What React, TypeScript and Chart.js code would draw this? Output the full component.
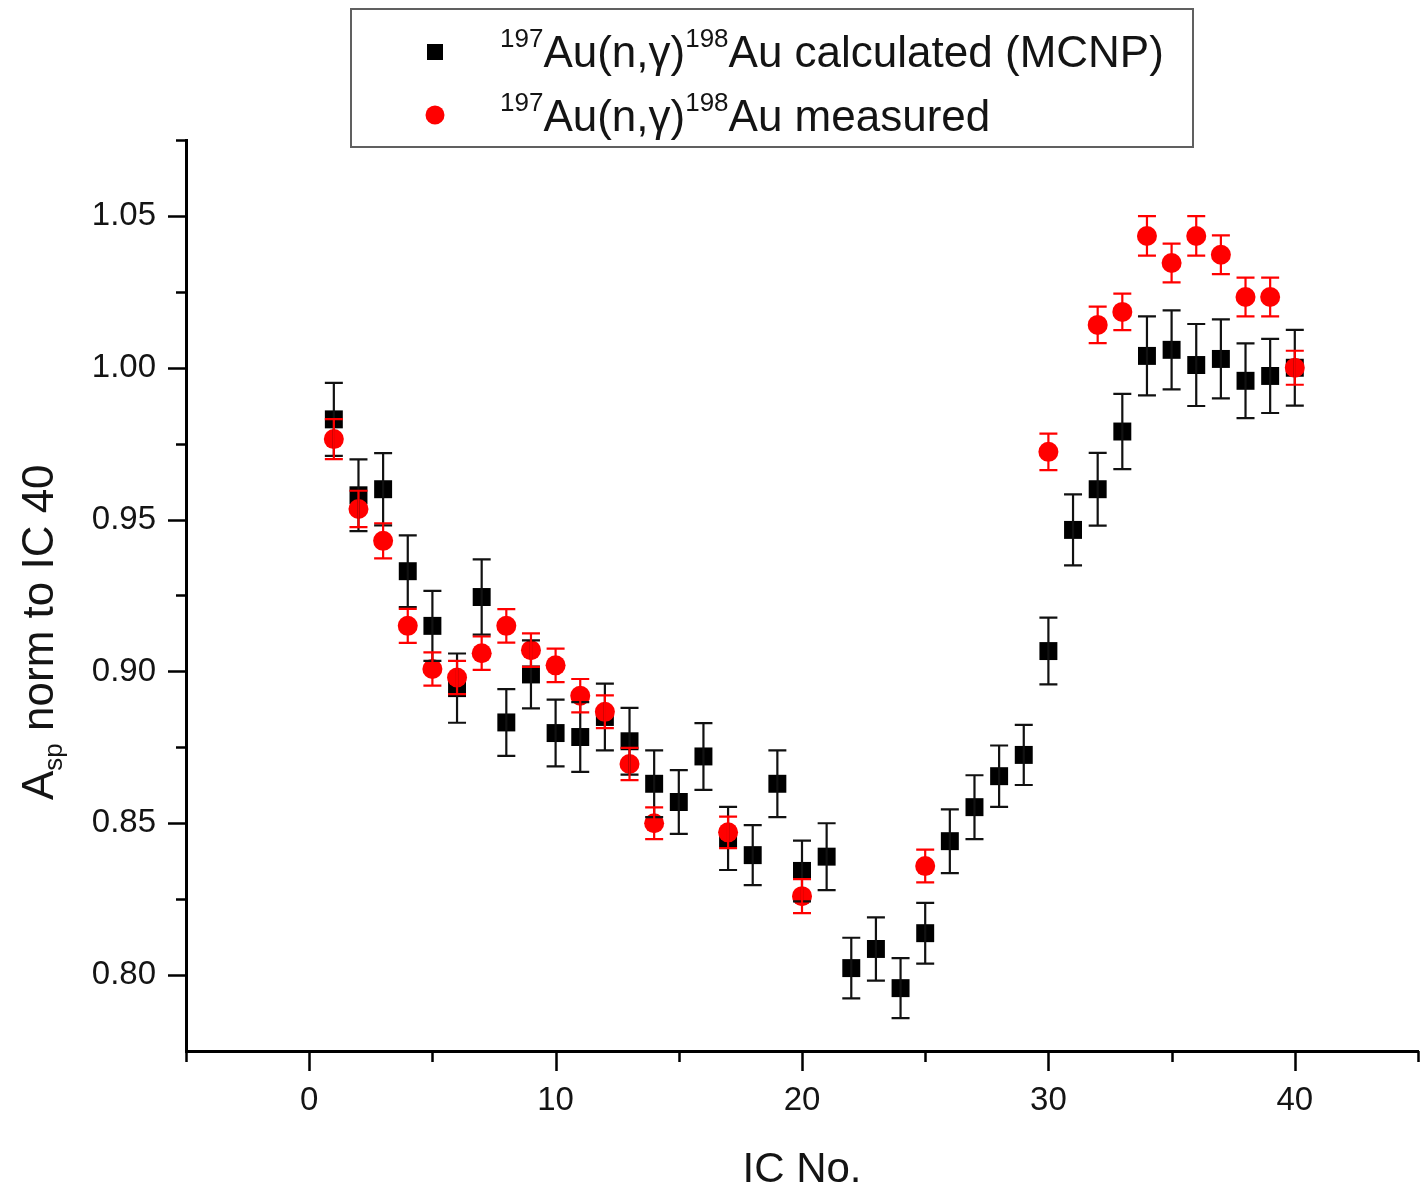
import { useEffect, useRef } from 'react';
import { Chart, registerables } from 'chart.js';

Chart.register(...registerables);

// ---------------- data ----------------
const calcIC = [1, 2, 3, 4, 5, 6, 7, 8, 9, 10, 11, 12, 13, 14, 15, 16, 17, 18, 19, 20, 21, 22, 23, 24, 25, 26, 27, 28, 29, 30, 31, 32, 33, 34, 35, 36, 37, 38, 39, 40];
const calcValues = [0.983, 0.958, 0.960, 0.933, 0.915, 0.8945, 0.9245, 0.8832, 0.899, 0.8797, 0.8784, 0.885, 0.877, 0.863, 0.857, 0.872, 0.845, 0.8395, 0.863, 0.8343, 0.839, 0.8023, 0.8086, 0.7957, 0.8138, 0.8441, 0.8553, 0.8655, 0.8725, 0.9067, 0.9466, 0.960, 0.979, 1.0039, 1.0059, 1.0009, 1.0029, 0.9957, 0.9973, 1.000];
const calcErrors = [0.012, 0.0118, 0.0119, 0.0118, 0.0115, 0.0114, 0.0124, 0.011, 0.0112, 0.011, 0.0115, 0.011, 0.011, 0.011, 0.0105, 0.011, 0.0104, 0.0099, 0.011, 0.010, 0.011, 0.010, 0.0104, 0.0099, 0.010, 0.0105, 0.0105, 0.0101, 0.0099, 0.011, 0.0117, 0.012, 0.0124, 0.013, 0.013, 0.0135, 0.013, 0.0123, 0.0122, 0.0125];

const measIC = [1, 2, 3, 4, 5, 6, 7, 8, 9, 10, 11, 12, 13, 14, 17, 20, 25, 30, 32, 33, 34, 35, 36, 37, 38, 39, 40];
const measValues = [0.9765, 0.9535, 0.943, 0.915, 0.9008, 0.898, 0.906, 0.915, 0.907, 0.902, 0.892, 0.8867, 0.8695, 0.850, 0.847, 0.826, 0.8359, 0.9723, 1.0141, 1.0184, 1.0434, 1.0345, 1.0434, 1.0372, 1.0233, 1.0233, 1.000];
const measErrors = [0.0066, 0.006, 0.0058, 0.0056, 0.0055, 0.0055, 0.0055, 0.0055, 0.0055, 0.0055, 0.0055, 0.0054, 0.0053, 0.0052, 0.0052, 0.0056, 0.0054, 0.006, 0.006, 0.006, 0.0065, 0.0064, 0.0065, 0.0064, 0.0064, 0.0064, 0.0056];

const xMajorTicks = [0, 10, 20, 30, 40];
const xMinorTicks = [-5, 5, 15, 25, 35, 45];
const yMajorTicks = [0.80, 0.85, 0.90, 0.95, 1.00, 1.05];
const yMinorTicks = [0.825, 0.875, 0.925, 0.975, 1.025, 1.075];

const xTitle = 'IC No.';
const yTitleParts = { main: 'A', sub: 'sp', rest: ' norm to IC 40' };
const legendCalc = { supA: '197', a: 'Au(n,γ)', supB: '198', b: 'Au calculated (MCNP)' };
const legendMeas = { supA: '197', a: 'Au(n,γ)', supB: '198', b: 'Au measured' };

// ---------------- styling / layout ----------------
const FONT = '"Liberation Sans", Arial, Helvetica, sans-serif';
const TEXT = '#141414';
const BLACK = '#000000';
const RED = '#ff0000';
const AREA_LEFT = 186;
const AREA_RIGHT = 1418;
const AREA_TOP = 140;
const AREA_BOTTOM = 1051;

function drawRich(ctx: CanvasRenderingContext2D, x: number, y: number, p: any) {
  const main = 44;
  const sup = 26;
  const supOff = 20;
  ctx.textAlign = 'left';
  ctx.textBaseline = 'alphabetic';
  ctx.fillStyle = TEXT;
  let cx = x;
  ctx.font = `${sup}px ${FONT}`;
  ctx.fillText(p.supA, cx, y - supOff);
  cx += ctx.measureText(p.supA).width;
  ctx.font = `${main}px ${FONT}`;
  ctx.fillText(p.a, cx, y);
  cx += ctx.measureText(p.a).width;
  ctx.font = `${sup}px ${FONT}`;
  ctx.fillText(p.supB, cx, y - supOff);
  cx += ctx.measureText(p.supB).width;
  ctx.font = `${main}px ${FONT}`;
  ctx.fillText(p.b, cx, y);
}

const decorPlugin = {
  id: 'decor',
  afterDatasetsDraw(chart: any) {
    const { ctx, scales } = chart;
    const xs = scales.x;
    const ys = scales.y;
    chart.data.datasets.forEach((ds: any) => {
      const errs: number[] = ds.errors;
      ctx.save();
      ctx.strokeStyle = ds.errorColor;
      ctx.lineWidth = 2.2;
      ds.data.forEach((pt: any, i: number) => {
        const px = xs.getPixelForValue(pt.x);
        const top = ys.getPixelForValue(pt.y + errs[i]);
        const bot = ys.getPixelForValue(pt.y - errs[i]);
        const hw = 9;
        ctx.beginPath();
        ctx.moveTo(px, top);
        ctx.lineTo(px, bot);
        ctx.moveTo(px - hw, top);
        ctx.lineTo(px + hw, top);
        ctx.moveTo(px - hw, bot);
        ctx.lineTo(px + hw, bot);
        ctx.stroke();
      });
      ctx.restore();
    });
  },
  afterDraw(chart: any) {
    const { ctx, scales, chartArea } = chart;
    const xs = scales.x;
    const ys = scales.y;
    ctx.save();
    // ticks
    ctx.strokeStyle = BLACK;
    ctx.lineWidth = 2.5;
    ctx.beginPath();
    yMajorTicks.forEach((v) => {
      const py = Math.round(ys.getPixelForValue(v)) + 0.5;
      ctx.moveTo(chartArea.left - 18, py);
      ctx.lineTo(chartArea.left, py);
    });
    yMinorTicks.forEach((v) => {
      const py = Math.round(ys.getPixelForValue(v)) + 0.5;
      ctx.moveTo(chartArea.left - 10, py);
      ctx.lineTo(chartArea.left, py);
    });
    xMajorTicks.forEach((v) => {
      const px = Math.round(xs.getPixelForValue(v)) + 0.5;
      ctx.moveTo(px, chartArea.bottom);
      ctx.lineTo(px, chartArea.bottom + 20);
    });
    xMinorTicks.forEach((v) => {
      const px = Math.round(xs.getPixelForValue(v)) + 0.5;
      ctx.moveTo(px, chartArea.bottom);
      ctx.lineTo(px, chartArea.bottom + 11);
    });
    ctx.stroke();

    // x title
    ctx.fillStyle = TEXT;
    ctx.font = `42px ${FONT}`;
    ctx.textAlign = 'center';
    ctx.textBaseline = 'alphabetic';
    ctx.fillText(xTitle, (chartArea.left + chartArea.right) / 2, 1182);

    // y title (rotated, with subscript)
    ctx.save();
    ctx.translate(53, 800);
    ctx.rotate(-Math.PI / 2);
    ctx.textAlign = 'left';
    ctx.font = `44px ${FONT}`;
    ctx.fillText(yTitleParts.main, 0, 0);
    let wx = ctx.measureText(yTitleParts.main).width;
    ctx.font = `26px ${FONT}`;
    ctx.fillText(yTitleParts.sub, wx, 9);
    wx += ctx.measureText(yTitleParts.sub).width;
    ctx.font = `44px ${FONT}`;
    ctx.fillText(yTitleParts.rest, wx, 0);
    ctx.restore();

    // legend
    ctx.fillStyle = '#ffffff';
    ctx.fillRect(351, 9, 842, 138);
    ctx.strokeStyle = '#606060';
    ctx.lineWidth = 2;
    ctx.strokeRect(351, 9, 842, 138);
    ctx.fillStyle = BLACK;
    ctx.fillRect(427, 44, 16, 16);
    ctx.fillStyle = RED;
    ctx.beginPath();
    ctx.arc(435, 115, 9.5, 0, Math.PI * 2);
    ctx.fill();
    drawRich(ctx, 500, 67, legendCalc);
    drawRich(ctx, 500, 131, legendMeas);
    ctx.restore();
  },
};

export default function App() {
  const ref = useRef<HTMLCanvasElement | null>(null);
  useEffect(() => {
    document.body.style.margin = '0';
    const canvas = ref.current;
    if (!canvas) return;
    const chart: any = new Chart(canvas, {
      type: 'scatter',
      data: {
        datasets: [
          {
            label: 'calculated (MCNP)',
            data: calcIC.map((x, i) => ({ x, y: calcValues[i] })),
            pointStyle: 'rect',
            pointRadius: 12.7,
            pointHoverRadius: 12.7,
            backgroundColor: BLACK,
            borderWidth: 0,
            order: 1,
            errors: calcErrors,
            errorColor: '#111111',
          } as any,
          {
            label: 'measured',
            data: measIC.map((x, i) => ({ x, y: measValues[i] })),
            pointStyle: 'circle',
            pointRadius: 10,
            pointHoverRadius: 10,
            backgroundColor: RED,
            borderWidth: 0,
            order: 0,
            errors: measErrors,
            errorColor: RED,
          } as any,
        ],
      },
      options: {
        animation: false,
        responsive: false,
        maintainAspectRatio: false,
        layout: { autoPadding: false, padding: { top: AREA_TOP, right: 1420 - AREA_RIGHT, left: 0, bottom: 0 } },
        plugins: {
          legend: { display: false },
          tooltip: { enabled: false },
        },
        scales: {
          x: {
            type: 'linear',
            min: -5,
            max: 45,
            afterFit: (s: any) => { s.height = 1192 - AREA_BOTTOM; s.paddingLeft = 0; s.paddingRight = 0; },
            afterBuildTicks: (s: any) => { s.ticks = xMajorTicks.map((v) => ({ value: v })); },
            grid: { display: false, drawTicks: false },
            border: { display: true, color: BLACK, width: 3 },
            ticks: {
              padding: 30,
              color: TEXT,
              font: { family: FONT, size: 33 },
              maxRotation: 0,
              callback: (v: any) => String(v),
            },
          },
          y: {
            type: 'linear',
            min: 0.775,
            max: 1.075,
            afterFit: (s: any) => { s.width = AREA_LEFT; s.paddingTop = 0; s.paddingBottom = 0; },
            afterBuildTicks: (s: any) => { s.ticks = yMajorTicks.map((v) => ({ value: v })); },
            grid: { display: false, drawTicks: false },
            border: { display: true, color: BLACK, width: 3 },
            ticks: {
              padding: 30,
              color: TEXT,
              font: { family: FONT, size: 33 },
              callback: (v: any) => Number(v).toFixed(2),
            },
          },
        },
      },
      plugins: [decorPlugin],
    });
    return () => chart.destroy();
  }, []);
  return (
    <div style={{ position: 'absolute', left: 0, top: 0, width: 1420, height: 1192, background: '#fff' }}>
      <canvas ref={ref} width={1420} height={1192} style={{ width: 1420, height: 1192, display: 'block' }} />
    </div>
  );
}
